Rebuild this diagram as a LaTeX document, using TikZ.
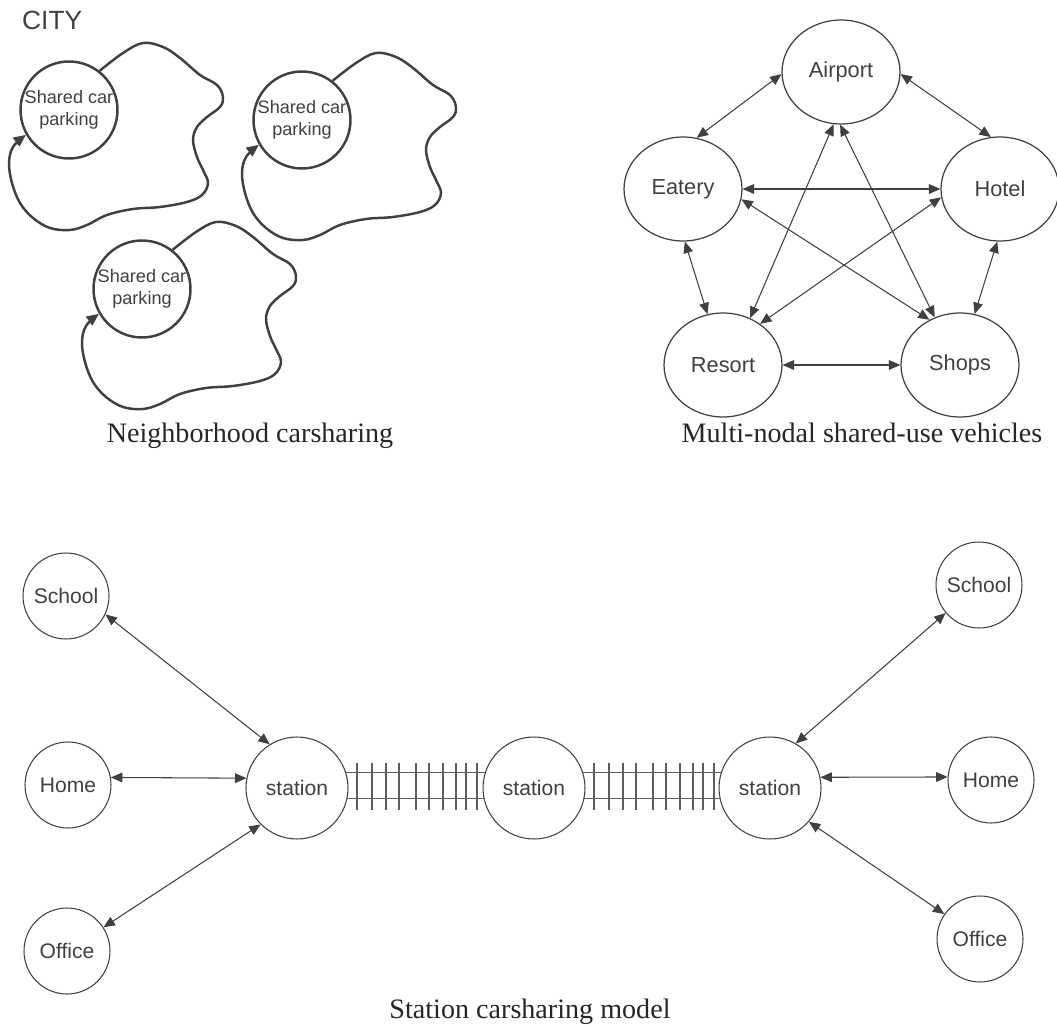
\documentclass[tikz,border=0pt]{standalone}
\usepackage{fontspec}
\setmainfont{Liberation Serif}
\setsansfont{Liberation Sans}
\usetikzlibrary{arrows.meta,shapes.geometric}

\definecolor{ink}{HTML}{404040}

\begin{document}
\begin{tikzpicture}[x=0.02cm, y=-0.02cm,
    every node/.style={text=ink, font=\sffamily},
    park/.style={circle, draw=ink, line width=1.4pt, minimum size=1.94cm, inner sep=0pt, align=center,
        font=\sffamily\fontsize{10.3}{12.3}\selectfont},
    place/.style={ellipse, draw=ink, line width=0.7pt, minimum width=2.36cm, minimum height=2.08cm,
        inner sep=0pt, font=\sffamily\fontsize{12.4}{14}\selectfont},
    spot/.style={circle, draw=ink, line width=0.6pt, minimum size=1.72cm, inner sep=0pt,
        font=\sffamily\fontsize{12}{14}\selectfont},
    stn/.style={spot, minimum size=2.04cm},
    link/.style={draw=ink, line width=0.6pt, {Triangle[length=6.5pt,width=5.5pt]}-{Triangle[length=6.5pt,width=5.5pt]}},
    loopline/.style={draw=ink, line width=1.4pt, -{Triangle[length=7pt,width=6pt]}},
    tie/.style={draw=ink!85, line width=0.6pt},
    caption/.style={anchor=base, text=black!85, font=\rmfamily\fontsize{16}{19}\selectfont}]
    \useasboundingbox (0,0) rectangle (1057,1026);

    % Neighborhood carsharing
    \node[anchor=base west, font=\sffamily\fontsize{15}{18}\selectfont] (city) at (16,30) {CITY};
    \node[park] (park1) at (69,110) {Shared car\\parking};
    \node[park] (park2) at (302,120) {Shared car\\parking};
    \node[park] (park3) at (142,289) {Shared car\\parking};
    \foreach \p in {park1,park2,park3}
        \draw[loopline, shift={(\p.center)}] plot[smooth, tension=0.6] coordinates {(\p.52) (54,-57) (74,-67)
            (94,-63) (111,-52) (131,-35) (148,-25) (154,-13) (151,-3) (138,7) (128,17) (124,30) (128,47)
            (134,60) (139,73) (133,85) (118,92) (91,97) (64,99) (38,105) (18,115) (1,120) (-19,118)
            (-36,108) (-49,93) (-57,73) (-60,53) (-56,37) (\p.210)};
    \node[caption] (capA) at (250,443) {Neighborhood carsharing};

    % Multi-nodal shared-use vehicles
    \node[place] (airport) at (841,72) {Airport};
    \node[place] (eatery) at (683,189) {Eatery};
    \node[place] (hotel) at (1000,189) {Hotel};
    \node[place] (resort) at (723,365) {Resort};
    \node[place] (shops) at (960,365) {Shops};
    \draw[link] (airport.182) -- (eatery.75);
    \draw[link] (airport.-2) -- (hotel.100);
    \draw[link] (eatery.east) -- (hotel.west);
    \draw[link] (eatery.-10) -- (shops.124);
    \draw[link] (airport.262) -- (resort.60);
    \draw[link] (airport.269) -- (shops.118);
    \draw[link] (hotel.188) -- (resort.48);
    \draw[link] (eatery.272) -- (resort.107);
    \draw[link] (hotel.267) -- (shops.74);
    \draw[link] (resort.east) -- (shops.west);
    \node[caption] (capB) at (862,443) {Multi-nodal shared-use vehicles};

    % Station carsharing model
    \node[stn] (stL) at (297,788) {station};
    \node[stn] (stM) at (534,788) {station};
    \node[stn] (stR) at (770,788) {station};
    \node[spot] (schoolL) at (66,596) {School};
    \node[spot] (homeL) at (68,785) {Home};
    \node[spot] (officeL) at (67,951) {Office};
    \node[spot] (schoolR) at (979,585) {School};
    \node[spot] (homeR) at (991,780) {Home};
    \node[spot] (officeR) at (980,939) {Office};
    \draw[link] (schoolL.-25) -- (stL.122);
    \draw[link] (homeL.10) -- (stL.169);
    \draw[link] (officeL.33) -- (stL.225);
    \draw[link] (stR.60) -- (schoolR.220);
    \draw[link] (stR.12) -- (homeR.176);
    \draw[link] (stR.-41) -- (officeR.145);
    % rails
    \draw[tie] (stL.18) -- (stM.162) (stL.-12) -- (stM.192);
    \draw[tie] (stM.18) -- (stR.162) (stM.-12) -- (stR.192);
    \foreach \s in {297,534}
        \foreach \d in {60,75,89,102,119,132,146,159,169,180}
            \draw[tie] ({\s+\d},763) -- ({\s+\d},810);
    \node[caption] (capC) at (530,1018) {Station carsharing model};
\end{tikzpicture}
\end{document}
